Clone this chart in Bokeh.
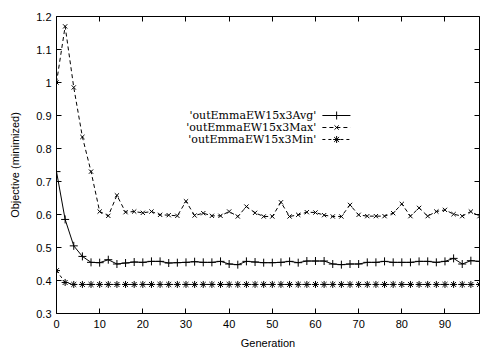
from bokeh.plotting import figure
from bokeh.models import (Range1d, LinearAxis, FixedTicker, CustomJSTickFormatter, Label,
                          CustomLabelingPolicy)
from bokeh.embed import file_html
from bokeh.resources import INLINE

generations = list(range(0, 100, 2))

avg_vals = [0.73, 0.585, 0.505, 0.473, 0.455, 0.454, 0.463, 0.450, 0.453, 0.456,
            0.455, 0.458, 0.458, 0.453, 0.454, 0.455, 0.457, 0.455, 0.455, 0.458,
            0.450, 0.448, 0.458, 0.456, 0.454, 0.454, 0.455, 0.458, 0.454, 0.459,
            0.459, 0.459, 0.450, 0.448, 0.450, 0.450, 0.455, 0.455, 0.458, 0.455,
            0.455, 0.455, 0.458, 0.458, 0.455, 0.458, 0.467, 0.450, 0.460, 0.458]

max_vals = [1.0, 1.17, 0.985, 0.835, 0.73, 0.609, 0.596, 0.658, 0.607, 0.609,
            0.605, 0.609, 0.599, 0.598, 0.596, 0.640, 0.597, 0.604, 0.596, 0.596,
            0.609, 0.594, 0.624, 0.605, 0.594, 0.594, 0.637, 0.594, 0.599, 0.607,
            0.606, 0.598, 0.594, 0.594, 0.629, 0.599, 0.595, 0.595, 0.595, 0.604,
            0.632, 0.595, 0.620, 0.595, 0.609, 0.614, 0.601, 0.595, 0.609, 0.595]

min_vals = [0.43, 0.394] + [0.388] * 48

labels = ["'outEmmaEW15x3Avg'", "'outEmmaEW15x3Max'", "'outEmmaEW15x3Min'"]
x_ticks = [0, 10, 20, 30, 40, 50, 60, 70, 80, 90]
y_ticks = [0.3, 0.4, 0.5, 0.6, 0.7, 0.8, 0.9, 1.0, 1.1, 1.2]

p = figure(width=501, height=351, output_backend="svg", toolbar_location=None,
           x_range=Range1d(0, 98), y_range=Range1d(0.3, 1.2),
           min_border_left=56, min_border_right=22, min_border_top=16, min_border_bottom=38)
p.background_fill_color = "white"
p.border_fill_color = "white"
p.outline_line_color = "black"
p.outline_line_width = 1
p.xgrid.visible = False
p.ygrid.visible = False

fmt = CustomJSTickFormatter(code="return tick.toFixed(1).replace(/\\.0$/, '');")
no_labels = CustomLabelingPolicy(code="""
for (let i = 0; i < indices.size; i++) { indices.unset(i); }
return indices;
""")

def style_axis(ax, show_labels):
    ax.major_tick_in = 5
    ax.major_tick_out = 0
    ax.minor_tick_line_color = None
    ax.axis_line_color = None
    ax.major_tick_line_color = "black"
    ax.major_label_text_font = "Liberation Sans"
    ax.major_label_text_font_size = "11px"
    ax.major_label_text_color = "black"
    ax.major_label_standoff = 5
    if not show_labels:
        ax.major_label_policy = no_labels
        ax.major_label_standoff = 0

p.xaxis.ticker = FixedTicker(ticks=x_ticks)
p.yaxis.ticker = FixedTicker(ticks=y_ticks)
p.yaxis.formatter = fmt
style_axis(p.xaxis[0], True)
style_axis(p.yaxis[0], True)
p.xaxis[0].major_label_standoff = 6
p.xaxis.axis_label = "Generation"
p.yaxis.axis_label = "Objective (minimized)"
for ax in (p.xaxis[0], p.yaxis[0]):
    ax.axis_label_text_font = "Liberation Sans"
    ax.axis_label_text_font_size = "11px"
    ax.axis_label_text_font_style = "normal"
    ax.axis_label_text_color = "black"
p.xaxis.axis_label_standoff = 6
p.yaxis.axis_label_standoff = 12

top_ax = LinearAxis(ticker=FixedTicker(ticks=x_ticks))
style_axis(top_ax, False)
p.add_layout(top_ax, "above")
right_ax = LinearAxis(ticker=FixedTicker(ticks=y_ticks))
style_axis(right_ax, False)
p.add_layout(right_ax, "right")

series = [
    (avg_vals, "solid", "cross", 8),
    (max_vals, "4 3", "x", 6),
    (min_vals, "3 3", "asterisk", 7),
]
for vals, dash, marker, size in series:
    p.line(generations, vals, line_color="black", line_width=1, line_dash=dash)
    p.scatter(generations, vals, marker=marker, size=size, line_color="black",
              fill_color=None, line_width=1)

# gnuplot-style key: text then sample
key_x_text = 60.2
key_x0, key_x1, key_xm = 61.6, 68.1, 64.9
key_ys = [0.900, 0.8636, 0.8273]
for (vals, dash, marker, size), lab, ky in zip(series, labels, key_ys):
    p.add_layout(Label(x=key_x_text, y=ky, text=lab, text_align="right",
                       text_baseline="middle", text_font="DejaVu Serif",
                       text_font_size="11px", text_color="black"))
    p.line([key_x0, key_x1], [ky, ky], line_color="black", line_width=1, line_dash=dash)
    p.scatter([key_xm], [ky], marker=marker, size=size, line_color="black",
              fill_color=None, line_width=1)

open("out.html", "w").write(file_html(p, INLINE))
